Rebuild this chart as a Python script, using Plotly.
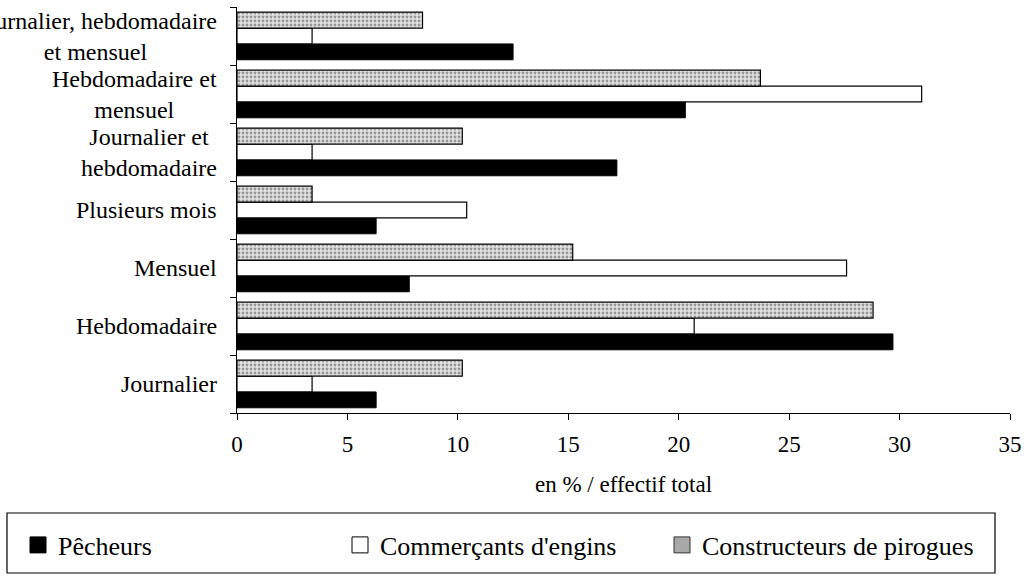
import plotly.graph_objects as go

categories = ["Journalier", "Hebdomadaire", "Mensuel", "Plusieurs mois",
              "Journalier et<br>hebdomadaire", "Hebdomadaire et<br>mensuel",
              "Journalier, hebdomadaire<br>et mensuel"]
pecheurs = [6.3, 29.7, 7.8, 6.3, 17.2, 20.3, 12.5]
commercants = [3.4, 20.7, 27.6, 10.4, 3.4, 31.0, 3.4]
constructeurs = [10.2, 28.8, 15.2, 3.4, 10.2, 23.7, 8.4]
series_names = ["Pêcheurs", "Commerçants d'engins", "Constructeurs de pirogues"]
x_ticks = [0, 5, 10, 15, 20, 25, 30, 35]
x_title = "en % / effectif total"

FONT = "Liberation Serif"
W, H = 1030, 577
ML, MR, MT, MB = 237, 20, 7, 164
PW, PH = W - ML - MR, H - MT - MB


def px_x(p):
    return (p - ML) / PW


def px_y(p):
    return (H - MB - p) / PH


fig = go.Figure()
fig.add_trace(go.Bar(y=categories, x=pecheurs, orientation="h", name=series_names[0],
                     marker=dict(color="black", line=dict(color="black", width=1)),
                     showlegend=False))
fig.add_trace(go.Bar(y=categories, x=commercants, orientation="h", name=series_names[1],
                     marker=dict(color="white", line=dict(color="black", width=1.2)),
                     showlegend=False))
fig.add_trace(go.Bar(y=categories, x=constructeurs, orientation="h", name=series_names[2],
                     marker=dict(color="#d4d4d4", line=dict(color="black", width=1.2),
                                 pattern=dict(shape=".", fgcolor="#4a4a4a", bgcolor="#e2e2e2",
                                              size=4, solidity=0.4)),
                     showlegend=False))

leg_styles = [dict(color="black", line=dict(color="black", width=1)),
              dict(color="white", line=dict(color="black", width=1)),
              dict(color="#a8a8a8", line=dict(color="#333333", width=1))]
for nm, st in zip(series_names, leg_styles):
    fig.add_trace(go.Scatter(x=[None], y=[None], mode="markers", name=nm,
                             marker=dict(symbol="square", size=21, **st)))

annotations = []
for c in categories:
    annotations.append(dict(x=0, xref="paper", y=c, yref="y", xanchor="right",
                            xshift=-18, text=c, showarrow=False, align="center",
                            font=dict(family=FONT, size=24, color="black")))

shapes = [dict(type="rect", xref="paper", yref="paper",
               x0=px_x(7), x1=px_x(995), y0=px_y(573), y1=px_y(513),
               line=dict(color="black", width=1.2), fillcolor="rgba(0,0,0,0)", layer="above")]

fig.update_layout(
    width=W, height=H,
    margin=dict(l=ML, r=MR, t=MT, b=MB, autoexpand=False),
    paper_bgcolor="white", plot_bgcolor="white",
    barmode="group", bargap=0.18, bargroupgap=0,
    font=dict(family=FONT, color="black"),
    annotations=annotations,
    shapes=shapes,
    showlegend=True,
    legend=dict(orientation="h", x=px_x(18), xanchor="left", y=px_y(545), yanchor="middle",
                borderwidth=0, bgcolor="rgba(0,0,0,0)",
                font=dict(family=FONT, size=26, color="black"),
                entrywidth=277, entrywidthmode="pixels", traceorder="normal"),
    xaxis=dict(range=[0, 35], tickvals=x_ticks, ticks="outside", ticklen=6,
               tickcolor="black", showline=True, linecolor="black", linewidth=1.2,
               showgrid=False, zeroline=False, ticklabelstandoff=4,
               tickfont=dict(family=FONT, size=23, color="black"),
               title=dict(text=x_title, font=dict(family=FONT, size=23, color="black"),
                          standoff=20)),
    yaxis=dict(type="category", categoryorder="array", categoryarray=categories,
               range=[-0.5, 6.5], tickson="boundaries", ticks="outside", ticklen=6,
               tickcolor="black", showline=True, linecolor="black", linewidth=1.2,
               showgrid=False, zeroline=False, showticklabels=False),
)

fig.write_html("out.html", config={"displayModeBar": False},
               post_script="document.body.style.margin='0px';")
